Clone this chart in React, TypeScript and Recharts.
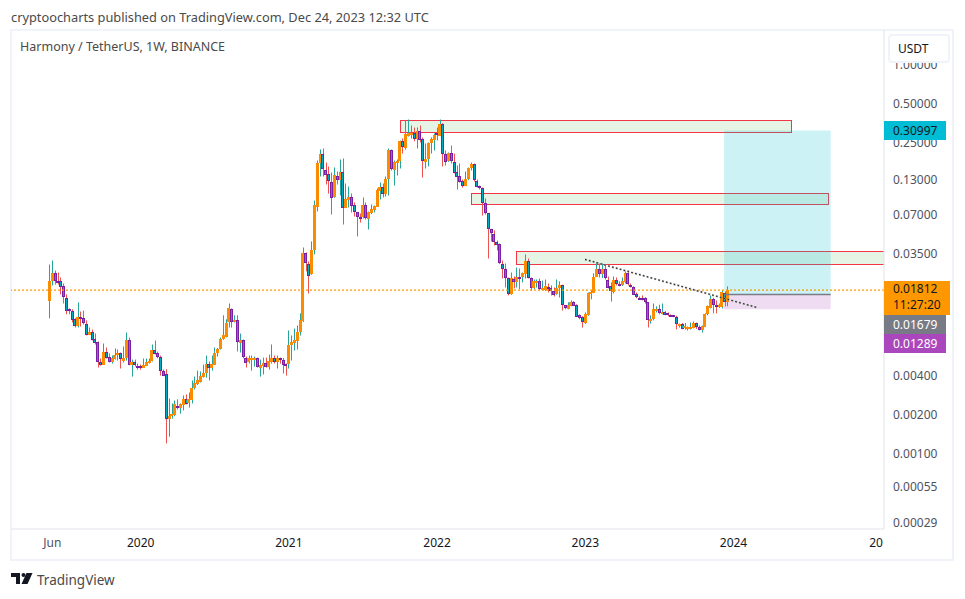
import React from "react";
import {
  Bar,
  ComposedChart,
  ReferenceArea,
  ReferenceLine,
  XAxis,
  YAxis,
} from "recharts";

// weekly candles, first one is June 2019
const highs = [
  0.0286, 0.0307, 0.0257, 0.0248, 0.0227, 0.0204, 0.0168, 0.0131, 0.0129, 0.011,
  0.0146, 0.0124, 0.0126, 0.0106, 0.00933, 0.00901, 0.00839, 0.00728, 0.00538, 0.00702,
  0.00654, 0.00588, 0.00567, 0.00642, 0.00631, 0.00598, 0.00666, 0.00854, 0.00781, 0.00528,
  0.00528, 0.00492, 0.00483, 0.00538, 0.00538, 0.00538, 0.0069, 0.00741, 0.00609, 0.00567,
  0.00442, 0.00445, 0.00264, 0.00242, 0.00255, 0.0026, 0.00242, 0.00279, 0.00284, 0.00294,
  0.00364, 0.0039, 0.00434, 0.00427, 0.00483, 0.00567, 0.0051, 0.00567, 0.00654, 0.00648,
  0.00781, 0.0116, 0.0108, 0.0143, 0.0131, 0.0116, 0.0116, 0.00839, 0.00754, 0.00557,
  0.00567, 0.00567, 0.00557, 0.00547, 0.00528, 0.00547, 0.00547, 0.00577, 0.0069, 0.00567,
  0.00567, 0.00547, 0.00543, 0.00492, 0.00885, 0.0081, 0.00917, 0.00967, 0.012, 0.0387,
  0.0354, 0.0302, 0.0431, 0.0892, 0.1815, 0.2208, 0.2247, 0.1752, 0.1632, 0.1467,
  0.1603, 0.1493, 0.1848, 0.1881, 0.1206, 0.1143, 0.101, 0.0861, 0.0725, 0.0708,
  0.0941, 0.0861, 0.0734, 0.0831, 0.0816, 0.1104, 0.1228, 0.1206, 0.1366, 0.2247,
  0.2208, 0.1815, 0.1848, 0.2591, 0.2684, 0.3696, 0.3763, 0.3382, 0.3264, 0.3264,
  0.3382, 0.2732, 0.2456, 0.25, 0.2732, 0.2934, 0.3264, 0.3763, 0.352, 0.2169,
  0.2093, 0.237, 0.205, 0.1661, 0.1721, 0.1295, 0.1493, 0.1603, 0.1752, 0.1721,
  0.1295, 0.1164, 0.1123, 0.0924, 0.0715, 0.054, 0.0524, 0.0438, 0.0415, 0.0307,
  0.0291, 0.0227, 0.0248, 0.0231, 0.0271, 0.0266, 0.0248, 0.0342, 0.0318, 0.0227,
  0.0219, 0.0219, 0.0223, 0.0215, 0.0219, 0.0204, 0.0197, 0.019, 0.0219, 0.0212,
  0.02, 0.0139, 0.0146, 0.0151, 0.0149, 0.0141, 0.0118, 0.0114, 0.0122, 0.0174,
  0.018, 0.0244, 0.0296, 0.0291, 0.0291, 0.0286, 0.0231, 0.0208, 0.0231, 0.0227,
  0.0212, 0.0227, 0.0253, 0.0257, 0.0204, 0.0194, 0.0174, 0.0162, 0.0165, 0.016,
  0.0147, 0.0116, 0.0143, 0.0136, 0.014, 0.0143, 0.0125, 0.0122, 0.0118, 0.0117,
  0.0115, 0.01, 0.0101, 0.0101, 0.0095, 0.0102, 0.0104, 0.0102, 0.00967, 0.00967,
  0.012, 0.0138, 0.0165, 0.0158, 0.0151, 0.0143, 0.018, 0.0177, 0.0194,
];

const lows = [
  0.011, 0.0197, 0.02, 0.02, 0.0168, 0.0143, 0.0118, 0.0118, 0.0102, 0.00933,
  0.00933, 0.0095, 0.00985, 0.0081, 0.00815, 0.00741, 0.0069, 0.00458, 0.00475, 0.0048,
  0.00538, 0.00501, 0.00492, 0.00528, 0.00519, 0.0045, 0.00501, 0.00519, 0.00478, 0.0039,
  0.00466, 0.00442, 0.00442, 0.00455, 0.0047, 0.00492, 0.0051, 0.00577, 0.0054, 0.00397,
  0.00393, 0.00119, 0.00134, 0.00185, 0.00193, 0.00217, 0.00202, 0.00214, 0.00238, 0.00225,
  0.00242, 0.0031, 0.00336, 0.00351, 0.00383, 0.00383, 0.00364, 0.00434, 0.0048, 0.00557,
  0.00631, 0.0075, 0.00781, 0.00933, 0.00933, 0.0102, 0.00609, 0.00598, 0.0054, 0.00458,
  0.00492, 0.00434, 0.00466, 0.00458, 0.0039, 0.00405, 0.00458, 0.00442, 0.00492, 0.00492,
  0.0045, 0.00492, 0.00412, 0.00397, 0.0045, 0.00519, 0.0062, 0.00631, 0.0081, 0.0103,
  0.0253, 0.0171, 0.0238, 0.0342, 0.0734, 0.1366, 0.1366, 0.1185, 0.101, 0.0695,
  0.0935, 0.1185, 0.0975, 0.0582, 0.078, 0.0788, 0.0721, 0.0671, 0.0471, 0.0603,
  0.0648, 0.0636, 0.0533, 0.07, 0.0721, 0.0795, 0.0908, 0.0941, 0.0957, 0.0975,
  0.152, 0.1164, 0.1391, 0.1575, 0.2056, 0.2208, 0.2781, 0.2684, 0.2545, 0.2247,
  0.25, 0.1342, 0.1575, 0.1632, 0.2056, 0.2169, 0.2591, 0.28, 0.1632, 0.1661,
  0.177, 0.1721, 0.1441, 0.1084, 0.1228, 0.1123, 0.115, 0.128, 0.152, 0.125,
  0.1123, 0.1084, 0.0683, 0.0695, 0.0318, 0.0431, 0.0401, 0.0367, 0.0288, 0.0223,
  0.019, 0.0165, 0.0167, 0.0187, 0.019, 0.0184, 0.0208, 0.0223, 0.0223, 0.018,
  0.0185, 0.019, 0.0182, 0.0181, 0.0179, 0.0174, 0.0165, 0.0162, 0.0167, 0.0159,
  0.0126, 0.0129, 0.0129, 0.0136, 0.0138, 0.0113, 0.0108, 0.00933, 0.00995, 0.0115,
  0.0154, 0.0172, 0.0229, 0.0227, 0.0225, 0.0219, 0.0187, 0.0148, 0.0171, 0.0197,
  0.0194, 0.0195, 0.0204, 0.0197, 0.019, 0.0166, 0.0157, 0.0155, 0.0151, 0.0143,
  0.00933, 0.01, 0.0106, 0.0122, 0.0118, 0.0118, 0.0116, 0.0114, 0.0113, 0.0112,
  0.00901, 0.00933, 0.00905, 0.00901, 0.00885, 0.00901, 0.0092, 0.0091, 0.00885, 0.00854,
  0.00945, 0.0116, 0.0131, 0.012, 0.012, 0.0132, 0.0131, 0.0136, 0.0136,
];

const opens = [
  0.0148, 0.0212, 0.0244, 0.0215, 0.0212, 0.0194, 0.0159, 0.0129, 0.0126, 0.0108,
  0.0095, 0.0112, 0.011, 0.01, 0.00824, 0.00869, 0.00767, 0.00715, 0.0051, 0.00483,
  0.00609, 0.00557, 0.0051, 0.00538, 0.00567, 0.00588, 0.00519, 0.00547, 0.00754, 0.00483,
  0.0051, 0.00475, 0.00475, 0.00458, 0.00475, 0.00501, 0.00519, 0.00631, 0.00588, 0.00557,
  0.00434, 0.00405, 0.00182, 0.00192, 0.00195, 0.00233, 0.00221, 0.00238, 0.00264, 0.00245,
  0.0026, 0.00316, 0.00339, 0.00357, 0.0039, 0.00419, 0.00492, 0.00458, 0.00483, 0.00598,
  0.00642, 0.00754, 0.00795, 0.0102, 0.013, 0.0104, 0.0106, 0.00702, 0.00741, 0.00547,
  0.00501, 0.00538, 0.00528, 0.00543, 0.00458, 0.00475, 0.00501, 0.00466, 0.00501, 0.00538,
  0.00498, 0.00538, 0.00528, 0.00488, 0.00483, 0.00678, 0.00702, 0.00728, 0.00854, 0.0104,
  0.0348, 0.0291, 0.024, 0.0367, 0.0802, 0.1721, 0.202, 0.1547, 0.1416, 0.125,
  0.0941, 0.138, 0.1295, 0.1493, 0.0788, 0.0908, 0.0957, 0.0816, 0.0721, 0.0671,
  0.0655, 0.0816, 0.064, 0.0708, 0.0747, 0.0802, 0.1065, 0.1143, 0.101, 0.1295,
  0.2169, 0.1547, 0.1783, 0.1783, 0.2545, 0.2247, 0.2831, 0.2934, 0.296, 0.2684,
  0.3094, 0.2637, 0.1783, 0.1848, 0.2456, 0.2637, 0.2934, 0.2831, 0.3504, 0.2056,
  0.1783, 0.206, 0.1783, 0.1493, 0.138, 0.1272, 0.1164, 0.1295, 0.1575, 0.1691,
  0.1272, 0.115, 0.111, 0.0846, 0.0708, 0.0533, 0.0496, 0.0427, 0.0408, 0.0291,
  0.0266, 0.0223, 0.0168, 0.022, 0.0208, 0.0231, 0.0227, 0.0244, 0.0307, 0.0225,
  0.0187, 0.0208, 0.0213, 0.0182, 0.018, 0.0192, 0.0189, 0.018, 0.0168, 0.0187,
  0.0197, 0.0138, 0.0131, 0.0139, 0.0148, 0.014, 0.0116, 0.0112, 0.01, 0.0116,
  0.0171, 0.0174, 0.0231, 0.0266, 0.0244, 0.0263, 0.0219, 0.0194, 0.0177, 0.0219,
  0.0204, 0.0197, 0.0208, 0.0244, 0.02, 0.0192, 0.0168, 0.0159, 0.0158, 0.0158,
  0.0146, 0.0107, 0.0108, 0.0126, 0.0129, 0.012, 0.0124, 0.012, 0.0117, 0.0116,
  0.0113, 0.00967, 0.01, 0.00933, 0.00933, 0.00933, 0.00933, 0.0101, 0.0095, 0.00901,
  0.0095, 0.0119, 0.0134, 0.0156, 0.014, 0.0133, 0.0133, 0.0172, 0.0146,
];

const closes = [
  0.0212, 0.0244, 0.0212, 0.0208, 0.019, 0.0159, 0.0126, 0.0124, 0.0108, 0.0095,
  0.0112, 0.0108, 0.01, 0.00824, 0.00869, 0.00754, 0.00715, 0.00501, 0.00483, 0.00609,
  0.00547, 0.0051, 0.00547, 0.00577, 0.00588, 0.00528, 0.00547, 0.00754, 0.00483, 0.0051,
  0.0048, 0.00458, 0.00458, 0.00483, 0.0051, 0.00519, 0.00631, 0.00588, 0.00547, 0.00434,
  0.00397, 0.00182, 0.00192, 0.00199, 0.00238, 0.00225, 0.00238, 0.00264, 0.00242, 0.00264,
  0.00321, 0.00345, 0.00364, 0.00397, 0.00419, 0.00492, 0.00458, 0.00492, 0.00598, 0.00642,
  0.00767, 0.0081, 0.0102, 0.0131, 0.0104, 0.0106, 0.00715, 0.00741, 0.00547, 0.00501,
  0.00538, 0.00547, 0.00547, 0.00466, 0.00483, 0.00501, 0.00466, 0.00519, 0.00538, 0.00501,
  0.00538, 0.00528, 0.00483, 0.00483, 0.00678, 0.00715, 0.00741, 0.00854, 0.0106, 0.0348,
  0.0291, 0.0235, 0.0367, 0.0816, 0.1752, 0.202, 0.1547, 0.1416, 0.125, 0.0941,
  0.1391, 0.1295, 0.1493, 0.0788, 0.0924, 0.0957, 0.0816, 0.0721, 0.0659, 0.0655,
  0.0816, 0.0648, 0.0721, 0.076, 0.0802, 0.1084, 0.1143, 0.101, 0.1318, 0.2169,
  0.1547, 0.1783, 0.1815, 0.2545, 0.2288, 0.2882, 0.2986, 0.2986, 0.2684, 0.3094,
  0.2637, 0.1783, 0.1881, 0.2456, 0.2637, 0.288, 0.2882, 0.3504, 0.2056, 0.1783,
  0.206, 0.1783, 0.1467, 0.1366, 0.125, 0.1164, 0.1318, 0.158, 0.1691, 0.1272,
  0.1143, 0.1104, 0.0846, 0.0708, 0.0533, 0.0496, 0.0427, 0.0408, 0.0291, 0.0266,
  0.0227, 0.0168, 0.0223, 0.0208, 0.0227, 0.0227, 0.0244, 0.0307, 0.0227, 0.0187,
  0.0212, 0.0215, 0.0184, 0.0187, 0.0194, 0.0187, 0.0178, 0.0168, 0.0187, 0.0197,
  0.0138, 0.0131, 0.014, 0.0148, 0.0139, 0.0114, 0.011, 0.0102, 0.0118, 0.0171,
  0.0174, 0.0231, 0.0266, 0.0244, 0.0266, 0.0223, 0.019, 0.0177, 0.0219, 0.0204,
  0.0197, 0.0212, 0.0244, 0.02, 0.0194, 0.0168, 0.0159, 0.0156, 0.0155, 0.0146,
  0.0106, 0.0108, 0.0129, 0.013, 0.012, 0.0124, 0.0118, 0.0116, 0.0114, 0.0113,
  0.01, 0.00985, 0.00917, 0.00967, 0.00945, 0.0095, 0.0102, 0.00933, 0.00901, 0.0096,
  0.0119, 0.0137, 0.0156, 0.014, 0.0134, 0.0138, 0.0174, 0.0146, 0.01812,
];

const priceTicks = [1, 0.5, 0.25, 0.13, 0.07, 0.035, 0.004, 0.002, 0.001, 0.00055, 0.00029];
const weekTicks = [1, 32, 84, 136, 188, 240, 290];
const weekLabels = ["Jun", "2020", "2021", "2022", "2023", "2024", "20"];

// drawings, in [week, price]
const zones = [
  { from: 123.1, to: 260.1, top: 0.372, bottom: 0.302 },
  { from: 148, to: 273.1, top: 0.1023, bottom: 0.084 },
  { from: 163.8, to: 310, top: 0.0362, bottom: 0.0289 },
];
const lastPrice = 0.01812;
const entryPrice = 0.01679;
const targetPrice = 0.30997;
const stopPrice = 0.01289;
const positionWeeks = [236.7, 274.1];
const trendWeeks = [187.9, 248.3];
const trendPrices = [0.0313, 0.0133];

const rows = closes.map((close, week) => ({
  week,
  open: opens[week],
  close,
  wick: [lows[week], highs[week]],
  body: [Math.min(opens[week], close), Math.max(opens[week], close)],
}));

const FONT = "'Noto Sans', sans-serif";
const UP_WICK = "#26a69a";
const DOWN_WICK = "#ef5350";
const UP_BODY = "#fb8c00";
const DOWN_BODY = "#00acc1";
const DOWN_BORDER = "#7b1fa2";
const WEEK_DOMAIN: [number, number] = [-13.5, 292.8];

const CandleWick = ({ x, y, width, height, payload }: any) => {
  const left = Math.round(x + width / 2 - 1.5) + 1;
  const fill = payload.close >= payload.open ? UP_WICK : DOWN_WICK;
  return <rect x={left} y={y} width={1} height={Math.max(height, 1)} fill={fill} />;
};

const CandleBody = ({ x, y, width, height, payload }: any) => {
  const left = Math.round(x + width / 2 - 1.5);
  const top = Math.round(y);
  const h = Math.max(Math.round(height), 2);
  if (payload.close >= payload.open) {
    return <rect x={left} y={top} width={3} height={h} fill={UP_BODY} />;
  }
  return (
    <rect
      x={left + 0.5}
      y={top + 0.5}
      width={2}
      height={h - 1}
      fill={DOWN_BODY}
      stroke={DOWN_BORDER}
      strokeWidth={1}
    />
  );
};

// snap to whole pixels so the red border stays crisp
const ZoneBox = ({ x, y, width, height, clipPath }: any) => {
  const left = Math.round(x) + 0.5;
  const top = Math.round(y) + 0.5;
  const right = Math.round(x + width) + 0.5;
  const bottom = Math.round(y + height) + 0.5;
  return (
    <rect
      x={left}
      y={top}
      width={right - left}
      height={bottom - top}
      clipPath={clipPath}
      fill="#4caf50"
      fillOpacity={0.14}
      stroke="#f23645"
      strokeWidth={1}
    />
  );
};

const WeekTick = ({ x, y, payload }: any) => (
  <text
    x={x}
    y={y + 4}
    textAnchor="middle"
    fontFamily={FONT}
    fontSize={12}
    fill={payload.value === 1 ? "#50535e" : "#131722"}
  >
    {weekLabels[weekTicks.indexOf(payload.value)]}
  </text>
);

const PriceTick = ({ x, y, payload }: any) => (
  <text x={x} y={y + 4.4} textAnchor="start" fontFamily={FONT} fontSize={12} fill="#50535e">
    {payload.value.toFixed(5)}
  </text>
);

const Tag = ({ top, height, width, bg, color, lines }: any) => (
  <div
    style={{
      position: "absolute",
      left: 884,
      top,
      width,
      height,
      background: bg,
      color,
      fontFamily: FONT,
      fontSize: 12,
      lineHeight: lines.length > 1 ? "16px" : `${height}px`,
      paddingLeft: 9,
      boxSizing: "border-box",
    }}
  >
    {lines.map((t: string) => (
      <div key={t}>{t}</div>
    ))}
  </div>
);

export default function App() {
  return (
    <div style={{ position: "absolute", left: 0, top: 0, width: 965, height: 599, background: "#fff", overflow: "hidden" }}>
      <div style={{ position: "absolute", left: 11, top: 8, fontFamily: FONT, fontSize: 12.8, color: "#4a4a4a", whiteSpace: "nowrap" }}>
        cryptoocharts published on TradingView.com, Dec 24, 2023 12:32 UTC
      </div>
      <div style={{ position: "absolute", left: 10, top: 29, width: 944, height: 532, boxSizing: "border-box", border: "2px solid #f0f3fa" }} />

      <ComposedChart
        width={965}
        height={599}
        data={rows}
        margin={{ top: 30, right: 11, bottom: 39, left: 11 }}
        style={{ position: "absolute", left: 0, top: 0 }}
      >
        <XAxis
          dataKey="week"
          type="number"
          domain={WEEK_DOMAIN}
          allowDataOverflow
          ticks={weekTicks}
          interval={0}
          height={31}
          tickLine={false}
          tickMargin={8}
          stroke="#e0e3eb"
          tick={<WeekTick />}
        />
        <XAxis xAxisId="wicks" dataKey="week" type="number" domain={WEEK_DOMAIN} allowDataOverflow hide />
        <YAxis
          orientation="right"
          scale="log"
          domain={[0.0002599, 1.846]}
          allowDataOverflow
          ticks={priceTicks}
          interval={0}
          width={70}
          tickSize={0}
          tickMargin={9}
          stroke="#e0e3eb"
          tick={<PriceTick />}
        />

        <Bar xAxisId="wicks" dataKey="wick" barSize={1} isAnimationActive={false} shape={<CandleWick />} />
        <Bar dataKey="body" barSize={3} isAnimationActive={false} shape={<CandleBody />} />

        {zones.map((z) => (
          <ReferenceArea
            key={z.from}
            x1={z.from}
            x2={z.to}
            y1={z.bottom}
            y2={z.top}
            ifOverflow="hidden"
            shape={<ZoneBox />}
          />
        ))}
        <ReferenceArea
          x1={positionWeeks[0]}
          x2={positionWeeks[1]}
          y1={entryPrice}
          y2={targetPrice}
          fill="#00bcd4"
          fillOpacity={0.2}
          stroke="none"
        />
        <ReferenceArea
          x1={positionWeeks[0]}
          x2={positionWeeks[1]}
          y1={stopPrice}
          y2={entryPrice}
          fill="#9c27b0"
          fillOpacity={0.16}
          stroke="none"
        />
        <ReferenceLine
          segment={[
            { x: positionWeeks[0], y: entryPrice },
            { x: positionWeeks[1], y: entryPrice },
          ]}
          stroke="#787b86"
          strokeWidth={1.5}
        />
        <ReferenceLine y={lastPrice} stroke="#ff9800" strokeWidth={1.1} strokeDasharray="2 2" />
        <ReferenceLine
          segment={[
            { x: trendWeeks[0], y: trendPrices[0] },
            { x: trendWeeks[1], y: trendPrices[1] },
          ]}
          stroke="#9a9a9a"
          strokeWidth={2}
          strokeDasharray="2 2"
        />
        <ReferenceLine
          segment={[
            { x: trendWeeks[0], y: trendPrices[0] },
            { x: trendWeeks[1], y: trendPrices[1] },
          ]}
          stroke="#222"
          strokeWidth={1}
          strokeDasharray="1.5 2.5"
        />
      </ComposedChart>

      <div style={{ position: "absolute", left: 20, top: 38, fontFamily: FONT, fontSize: 12.5, color: "#4a4a4a", whiteSpace: "nowrap" }}>
        Harmony / TetherUS, 1W, BINANCE
      </div>
      <div
        style={{
          position: "absolute",
          left: 888,
          top: 34,
          width: 62,
          height: 29,
          boxSizing: "border-box",
          border: "2px solid #f0f3fa",
          borderRadius: 4,
          background: "#fff",
          fontFamily: FONT,
          fontSize: 12,
          color: "#131722",
          lineHeight: "25px",
          paddingLeft: 8,
        }}
      >
        USDT
      </div>

      <Tag top={121} height={19} width={62} bg="#00bcd4" color="#131722" lines={["0.30997"]} />
      <Tag top={281} height={34} width={66} bg="#ff9800" color="#131722" lines={["0.01812", "11:27:20"]} />
      <Tag top={315} height={19} width={62} bg="#787b86" color="#fff" lines={["0.01679"]} />
      <Tag top={334} height={19} width={62} bg="#ab47bc" color="#fff" lines={["0.01289"]} />

      <svg style={{ position: "absolute", left: 11, top: 573 }} width={22} height={12}>
        <path d="M0 0H9V11H5V4H0Z" fill="#131722" />
        <circle cx={12.5} cy={2} r={2} fill="#131722" />
        <path d="M15.5 0H21.5L16.5 11H10.5Z" fill="#131722" />
      </svg>
      <div style={{ position: "absolute", left: 37, top: 571, fontFamily: FONT, fontSize: 13.5, color: "#4a4a4a", whiteSpace: "nowrap" }}>
        TradingView
      </div>
    </div>
  );
}
